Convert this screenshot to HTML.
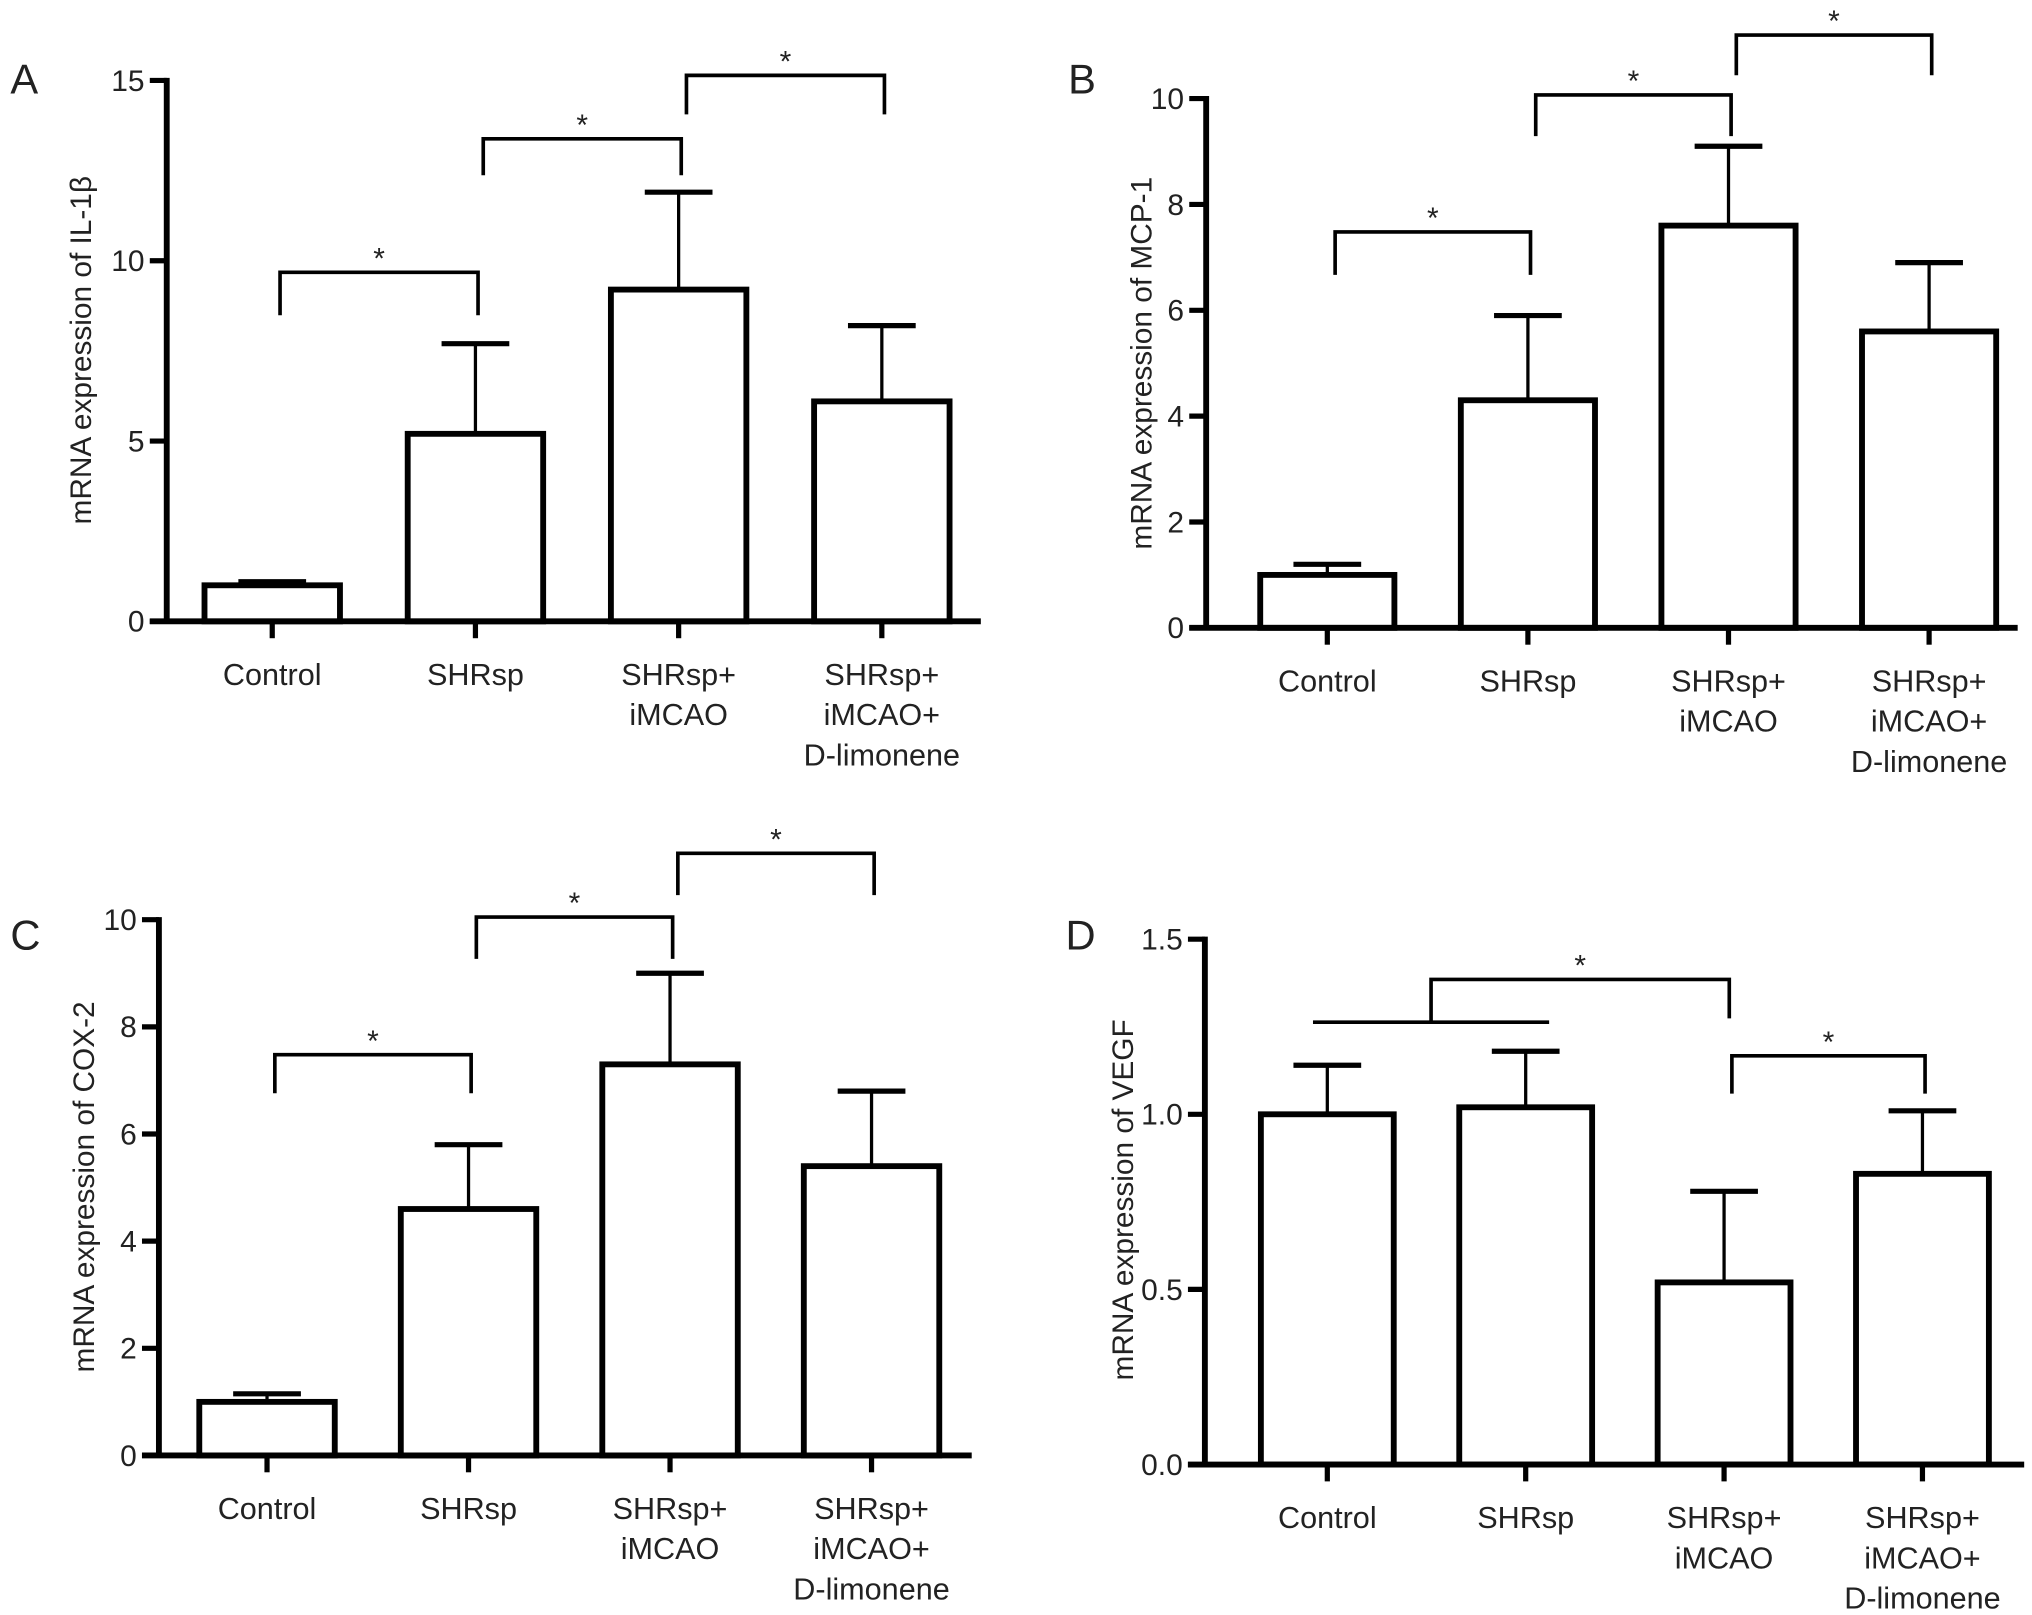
<!DOCTYPE html>
<html><head><meta charset="utf-8"><style>
html,body{margin:0;padding:0;background:#fff;}
svg{display:block;}
text{font-family:"Liberation Sans",Arial,sans-serif;fill:#222;}
</style></head><body>
<svg id="fig" width="2032" height="1615" viewBox="0 0 1560 1245" preserveAspectRatio="none" xmlns="http://www.w3.org/2000/svg"></svg>
<script>
const categories = [["Control"],["SHRsp"],["SHRsp+","iMCAO"],["SHRsp+","iMCAO+","D-limonene"]];
const meansA = [1.0, 5.2, 9.2, 6.1];
const errA = [1.1, 7.7, 11.9, 8.2];
const meansB = [1.0, 4.3, 7.6, 5.6];
const errB = [1.2, 5.9, 9.1, 6.9];
const meansC = [1.0, 4.6, 7.3, 5.4];
const errC = [1.15, 5.8, 9.0, 6.8];
const meansD = [1.0, 1.02, 0.52, 0.83];
const errD = [1.14, 1.18, 0.78, 1.01];
const ticksA = ["0","5","10","15"];
const ticksB = ["0","2","4","6","8","10"];
const ticksC = ["0","2","4","6","8","10"];
const ticksD = ["0.0","0.5","1.0","1.5"];
// brackets: [groupFrom, groupTo, topValue, leftLegValue, rightLegValue]
const bracketsA = [[0,1,9.68,8.49,8.49],[1,2,13.38,12.37,12.37],[2,3,15.14,14.06,14.06]];
const bracketsB = [[0,1,7.48,6.67,6.67],[1,2,10.07,9.29,9.29],[2,3,11.2,10.44,10.44]];
const bracketsC = [[0,1,7.48,6.76,6.76],[1,2,10.05,9.27,9.27],[2,3,11.24,10.46,10.46]];
const bracketsD = [[2,3,1.167,1.059,1.059]];

const svg = document.getElementById('fig');
const NS = 'http://www.w3.org/2000/svg';
function mk(tag, attrs, parent){
  const e = document.createElementNS(NS, tag);
  for (const k in attrs) e.setAttribute(k, attrs[k]);
  (parent||svg).appendChild(e);
  return e;
}

function panel(cfg){
  const g = mk('g', {});
  
  
  const ymax = cfg.ymax;
  const yS = v => cfg.y0 - (v / ymax) * (cfg.y0 - cfg.yTop);
  const xS = i => cfg.cx0 + i * cfg.step;
  const L = mk('text', {x: cfg.lx, y: cfg.ly, 'font-size': 32}, g);
  L.textContent = cfg.letter;
  
  
  const T = mk('text', {x: cfg.tx, y: cfg.ty, 'font-size': 23, 'text-anchor': 'middle', transform: `rotate(-90 ${cfg.tx} ${cfg.ty})`}, g);
  T.innerHTML = cfg.title;
  
  
  cfg.means.forEach((m, i) => {
    const cx = xS(i);
    const bw = cfg.bw;
    const eb = mk('line', {x1: cx, x2: cx, y1: yS(m), y2: yS(cfg.err[i]), stroke: '#000', 'stroke-width': 2.5}, g);
    
    
    const cap = mk('line', {x1: cx - 26, x2: cx + 26, y1: yS(cfg.err[i]), y2: yS(cfg.err[i]), stroke: '#000', 'stroke-width': 4}, g);
    
    
    const r = mk('rect', {x: cx - bw/2, y: yS(m), width: bw, height: yS(0) - yS(m), fill: 'none', stroke: '#000', 'stroke-width': 4.5}, g);
    
    
    const tk = mk('line', {x1: cx, x2: cx, y1: cfg.y0, y2: cfg.y0 + 13, stroke: '#000', 'stroke-width': 4}, g);
    
    
    categories[i].forEach((s, j) => {
      const t = mk('text', {x: cx, y: cfg.y0 + 49 + j * 31, 'font-size': 23.5, 'text-anchor': 'middle'}, g);
      t.textContent = s;
      
      
    });
  });
  const ya = mk('line', {x1: cfg.ax, x2: cfg.ax, y1: cfg.yTop - 2, y2: cfg.y0 + 2, stroke: '#000', 'stroke-width': 4.5}, g);
  
  
  const xa = mk('line', {x1: cfg.ax - 13, x2: cfg.xEnd, y1: cfg.y0, y2: cfg.y0, stroke: '#000', 'stroke-width': 4.5}, g);
  
  
  cfg.ticks.forEach((lab, k) => {
    const v = k * ymax / (cfg.ticks.length - 1);
    const y = yS(v);
    const tk = mk('line', {x1: cfg.ax - 13, x2: cfg.ax, y1: y, y2: y, stroke: '#000', 'stroke-width': 4}, g);
    
    
    const t = mk('text', {x: cfg.ax - 17, y: y + 8, 'font-size': 23, 'text-anchor': 'end'}, g);
    t.textContent = lab;
    
    
  });
  cfg.brackets.forEach(b => {
    const x1 = xS(b[0]) + 6, x2 = xS(b[1]) + 2;
    const p = mk('path', {d: `M${x1},${yS(b[3])} V${yS(b[2])} H${x2} V${yS(b[4])}`, fill: 'none', stroke: '#000', 'stroke-width': 2.8}, g);
    
    
    const s = mk('text', {x: (x1 + x2) / 2, y: yS(b[2]) - 3, 'font-size': 23, 'text-anchor': 'middle'}, g);
    s.textContent = '*';
    
    
  });
  return {g, xS, yS};
}

panel({letter:'A', lx:8, ly:72, tx:70, ty:270, title:'mRNA expression of IL-1β', means:meansA, err:errA, ticks:ticksA, ymax:15,
  y0:479, yTop:62, ax:128, xEnd:753, cx0:209, step:156, bw:104, brackets:bracketsA});
panel({letter:'B', lx:820, ly:72, tx:884, ty:280, title:'mRNA expression of MCP-1', means:meansB, err:errB, ticks:ticksB, ymax:10,
  y0:484, yTop:76, ax:926, xEnd:1549, cx0:1019, step:154, bw:103, brackets:bracketsB});
panel({letter:'C', lx:8, ly:732, tx:72, ty:915, title:'mRNA expression of COX-2', means:meansC, err:errC, ticks:ticksC, ymax:10,
  y0:1122, yTop:709, ax:122, xEnd:746, cx0:205, step:154.7, bw:104, brackets:bracketsC});
const pD = panel({letter:'D', lx:818, ly:732, tx:870, ty:925, title:'mRNA expression of VEGF', means:meansD, err:errD, ticks:ticksD, ymax:1.5,
  y0:1129, yTop:724, ax:925, xEnd:1554, cx0:1019, step:152.3, bw:102, brackets:bracketsD});
const combinedLineD = [0, 1, 1.263];
const combinedBracketD = [2, 1.385, 1.274];
(function(){
  const g = pD.g, xS = pD.xS, yS = pD.yS;
  const xa = xS(combinedLineD[0]) - 11, xb = xS(combinedLineD[1]) + 18;
  const l = mk('line', {x1: xa, x2: xb, y1: yS(combinedLineD[2]), y2: yS(combinedLineD[2]), stroke: '#000', 'stroke-width': 2.8}, g);
  
  
  const xm = (xa + xb) / 2, xr = xS(combinedBracketD[0]) + 4;
  const p = mk('path', {d: `M${xm},${yS(combinedLineD[2])} V${yS(combinedBracketD[1])} H${xr} V${yS(combinedBracketD[2])}`, fill: 'none', stroke: '#000', 'stroke-width': 2.8}, g);
  
  
  const s = mk('text', {x: (xm + xr) / 2, y: yS(combinedBracketD[1]) - 3, 'font-size': 23, 'text-anchor': 'middle'}, g);
  s.textContent = '*';
  
  
})();
</script>
</body></html>
